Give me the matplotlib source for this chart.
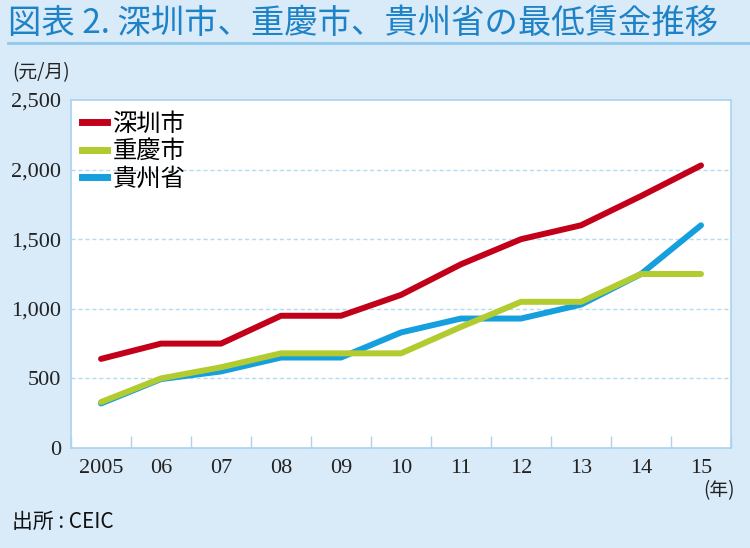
import matplotlib
matplotlib.use("Agg")
import matplotlib.pyplot as plt
from matplotlib.lines import Line2D
from matplotlib.ticker import FuncFormatter

# --- data (元/月) ---
years = ["2005", "06", "07", "08", "09", "10", "11", "12", "13", "14", "15"]
shenzhen = [640, 750, 750, 950, 950, 1100, 1320, 1500, 1600, 1810, 2030]
chongqing = [330, 500, 580, 680, 680, 680, 870, 1050, 1050, 1250, 1250]
guizhou = [320, 495, 550, 650, 650, 830, 930, 930, 1030, 1250, 1600]
series_names = ["深圳市", "重慶市", "貴州省"]
y_ticks = [0, 500, 1000, 1500, 2000, 2500]

BG = "#D9EAF8"
EDGE = "#A9D3F0"
RED = "#C3001A"
GREEN = "#B2CB2F"
BLUE = "#169FDF"
TITLE_BLUE = "#1E82C6"
JP = ["Noto Sans CJK JP", "DejaVu Sans"]
SERIF = ["Liberation Serif", "Noto Sans CJK JP"]

fig = plt.figure(figsize=(7.5, 5.48), dpi=100, facecolor=BG)
ax = fig.add_axes([0.0947, 0.1825, 0.88, 0.635])
ax.set_facecolor("white")

x = list(range(len(years)))
lw = 4.3
ax.plot(x, shenzhen, color=RED, lw=lw, solid_capstyle="round", zorder=3)
ax.plot(x, guizhou, color=BLUE, lw=lw, solid_capstyle="round", zorder=3)
ax.plot(x, chongqing, color=GREEN, lw=lw, solid_capstyle="round", zorder=4)

ax.set_xlim(-0.5, len(years) - 0.5)
ax.set_ylim(0, 2500)

# y axis
ax.set_yticks(y_ticks)
ax.yaxis.set_major_formatter(FuncFormatter(lambda v, p: f"{int(v):,}"))
ax.tick_params(axis="y", length=0, pad=7, labelsize=16, labelcolor="#222222")
for lbl in ax.get_yticklabels():
    lbl.set_family(SERIF)
for v in y_ticks[1:-1]:
    ax.axhline(v, color="#B5DBF3", lw=1, ls=(0, (3, 2)), zorder=1)

# x axis: labels at centres, tick marks between categories
ax.set_xticks(x)
ax.set_xticklabels(years)
ax.set_xticks([i - 0.5 for i in range(len(years) + 1)], minor=True)
ax.tick_params(axis="x", which="major", length=0, pad=8, labelsize=16,
               labelcolor="#222222")
ax.tick_params(axis="x", which="minor", direction="in", length=9,
               color=EDGE, width=1)
for lbl in ax.get_xticklabels():
    lbl.set_family(SERIF)

for s in ax.spines.values():
    s.set_color(EDGE)
    s.set_linewidth(1.2)

# legend
handles = [Line2D([], [], color=c, lw=5) for c in (RED, GREEN, BLUE)]
leg = ax.legend(handles, series_names, loc="upper left", frameon=False,
                handlelength=1.05, handletextpad=0.2, labelspacing=0.05,
                borderaxespad=0.05, prop={"family": JP, "size": 17.5})

# title and notes
fig.text(0.011, 0.958, "図表 2. 深圳市、重慶市、貴州省の最低賃金推移",
         family=JP, fontsize=24, color=TITLE_BLUE, va="center", ha="left")
fig.add_artist(Line2D([0.011, 1.0], [0.921, 0.921], color="#8FC9EE",
                      lw=2, transform=fig.transFigure))
fig.text(0.016, 0.868, "(元/月)", family=JP, fontsize=13.5, va="center",
         ha="left", color="#222222")
fig.text(0.98, 0.105, "(年)", family=JP, fontsize=13.5, va="center",
         ha="right", color="#222222")
fig.text(0.016, 0.047, "出所 : CEIC", family=JP, fontsize=15, va="center",
         ha="left", color="#111111")

fig.savefig("out.png", dpi=100, facecolor=BG)
